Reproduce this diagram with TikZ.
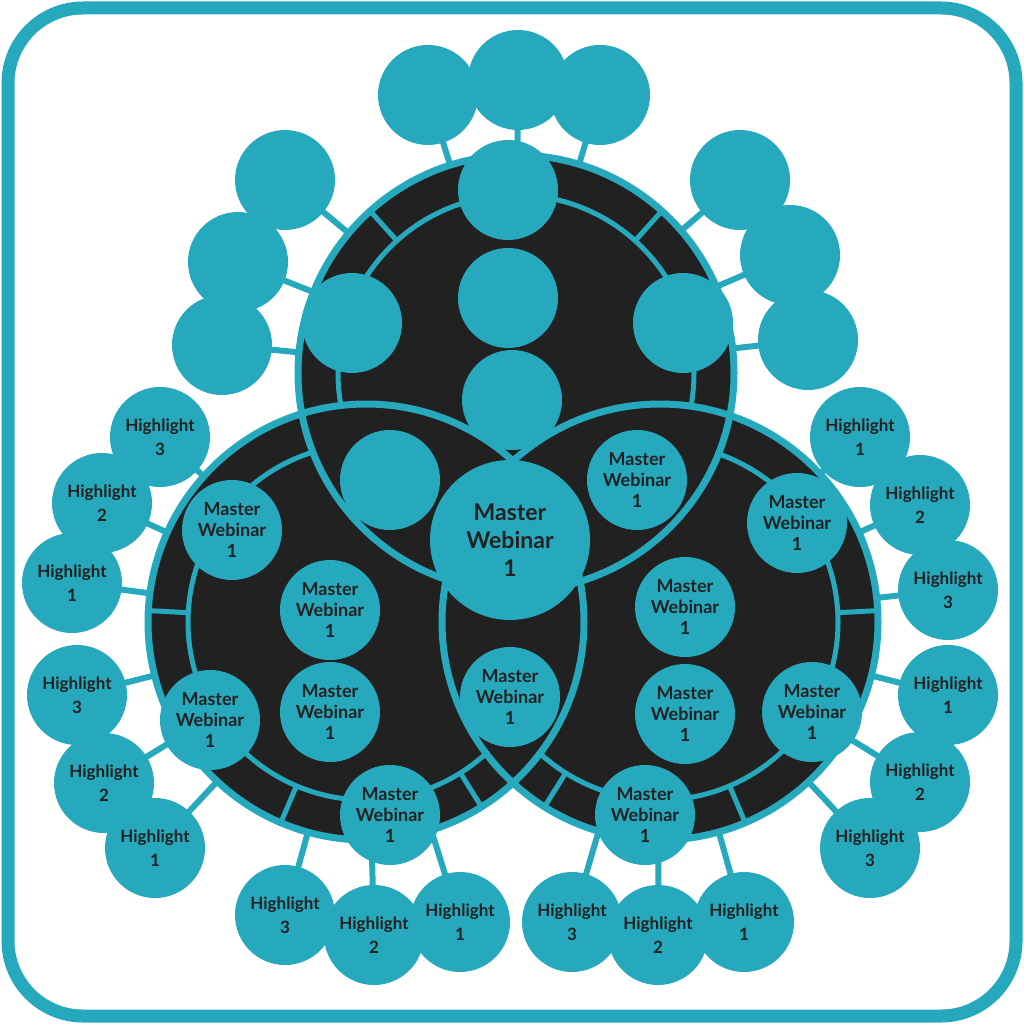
\documentclass[tikz,border=0pt]{standalone}
\usepackage{fontspec}
\setmainfont{Lato}
\usetikzlibrary{backgrounds}
\definecolor{teal1}{HTML}{27A9BD}
\definecolor{dark1}{HTML}{212121}
\tikzset{
  sat/.style={circle, fill=teal1, minimum size=100pt, inner sep=0pt, align=center,
              font=\bfseries\fontsize{18}{21}\selectfont, text=dark1},
  hl/.style={sat, font=\bfseries\fontsize{17}{24}\selectfont},
  link/.style={draw=teal1, line width=6pt},
  bigc/.style={fill=dark1},
  ring/.style={draw=teal1, line width=5pt}
}
\begin{document}
\begin{tikzpicture}[x=1pt, y=-1pt]
  \useasboundingbox (0,0) rectangle (1024,1024);
  \draw[teal1, line width=13pt, rounded corners=75pt] (8,8) rectangle (1016,1016);
  % centres of the three big circles
  \coordinate (T) at (516,373);
  \coordinate (L) at (366,622);
  \coordinate (R) at (660,622);
  % dark discs
  \fill[bigc] (T) circle[radius=218pt];
  \fill[bigc] (L) circle[radius=218pt];
  \fill[bigc] (R) circle[radius=218pt];
  % inner rings, kept outside the other discs
  \begin{scope}[even odd rule]
    \clip (-10,-10) rectangle (1100,1100) (L) circle[radius=218pt];
    \clip (-10,-10) rectangle (1100,1100) (R) circle[radius=218pt];
    \draw[ring] (T) circle[radius=178pt];
  \end{scope}
  \begin{scope}[even odd rule]
    \clip (-10,-10) rectangle (1100,1100) (T) circle[radius=218pt];
    \clip (-10,-10) rectangle (1100,1100) (R) circle[radius=218pt];
    \draw[ring] (L) circle[radius=178pt];
  \end{scope}
  \begin{scope}[even odd rule]
    \clip (-10,-10) rectangle (1100,1100) (T) circle[radius=218pt];
    \clip (-10,-10) rectangle (1100,1100) (L) circle[radius=218pt];
    \draw[ring] (R) circle[radius=178pt];
  \end{scope}
  % spokes
  \foreach \a in {132,48} \draw[ring] (T) ++(\a:178pt) -- ++(\a:40pt);
  \foreach \a in {177,247,302} \draw[ring] (L) ++(\a:178pt) -- ++(\a:40pt);
  \foreach \a in {3,-67,-122} \draw[ring] (R) ++(\a:178pt) -- ++(\a:40pt);
  % borders
  \draw[teal1, line width=7pt] (T) circle[radius=218pt];
  \draw[teal1, line width=7pt] (L) circle[radius=218pt];
  \draw[teal1, line width=7pt] (R) circle[radius=218pt];

  % satellites of the top disc
  \node[sat] (t1) at (508,190) {};
  \node[sat] (t2) at (352,323) {};
  \node[sat] (t3) at (683,323) {};
  \node[sat] (t4) at (508,298) {};
  \node[sat] (t5) at (512,400) {};
  \node[sat] (t6) at (390,480) {};
  \node[sat] (t7) at (637,480) {Master\\Webinar\\1};
  \node[sat, minimum size=160pt, font=\bfseries\fontsize{23}{28}\selectfont] (mc) at (510,540) {Master\\Webinar\\1};
  \node[sat] (mb) at (510,697) {Master\\Webinar\\1};
  % left disc
  \node[sat] (l1) at (232,530) {Master\\Webinar\\1};
  \node[sat] (l2) at (210,720) {Master\\Webinar\\1};
  \node[sat] (l3) at (390,815) {Master\\Webinar\\1};
  \node[sat] (l4) at (330,610) {Master\\Webinar\\1};
  \node[sat] (l5) at (330,712) {Master\\Webinar\\1};
  % right disc
  \node[sat] (r1) at (797,523) {Master\\Webinar\\1};
  \node[sat] (r2) at (812,712) {Master\\Webinar\\1};
  \node[sat] (r3) at (645,815) {Master\\Webinar\\1};
  \node[sat] (r4) at (685,607) {Master\\Webinar\\1};
  \node[sat] (r5) at (685,714) {Master\\Webinar\\1};

  % outer ring of circles
  \node[sat] (o1) at (428,95) {};
  \node[sat] (o2) at (518,80) {};
  \node[sat] (o3) at (600,95) {};
  \node[sat] (o4) at (285,180) {};
  \node[sat] (o5) at (238,262) {};
  \node[sat] (o6) at (222,345) {};
  \node[sat] (o7) at (740,180) {};
  \node[sat] (o8) at (790,255) {};
  \node[sat] (o9) at (808,340) {};
  \node[hl] (la3) at (160,437) {Highlight\\3};
  \node[hl] (la2) at (102,503) {Highlight\\2};
  \node[hl] (la1) at (72,583) {Highlight\\1};
  \node[hl] (lb3) at (77,695) {Highlight\\3};
  \node[hl] (lb2) at (104,783) {Highlight\\2};
  \node[hl] (lb1) at (155,848) {Highlight\\1};
  \node[hl] (bl3) at (285,915) {Highlight\\3};
  \node[hl] (bl2) at (374,935) {Highlight\\2};
  \node[hl] (bl1) at (460,922) {Highlight\\1};
  \node[hl] (br3) at (572,922) {Highlight\\3};
  \node[hl] (br2) at (658,935) {Highlight\\2};
  \node[hl] (br1) at (744,922) {Highlight\\1};
  \node[hl] (rb1) at (948,695) {Highlight\\1};
  \node[hl] (rb2) at (920,782) {Highlight\\2};
  \node[hl] (rb3) at (870,848) {Highlight\\3};
  \node[hl] (ra1) at (860,437) {Highlight\\1};
  \node[hl] (ra2) at (920,505) {Highlight\\2};
  \node[hl] (ra3) at (948,590) {Highlight\\3};

  % links behind everything
  \begin{pgfonlayer}{background}
    \foreach \n in {o1,o2,o3,o4,o5,o6,o7,o8,o9} \draw[link] (\n.center) -- (T);
    \foreach \n in {la3,la2,la1,lb3,lb2,lb1,bl3,bl2,bl1} \draw[link] (\n.center) -- (L);
    \foreach \n in {br3,br2,br1,rb1,rb2,rb3,ra1,ra2,ra3} \draw[link] (\n.center) -- (R);
  \end{pgfonlayer}
\end{tikzpicture}
\end{document}
